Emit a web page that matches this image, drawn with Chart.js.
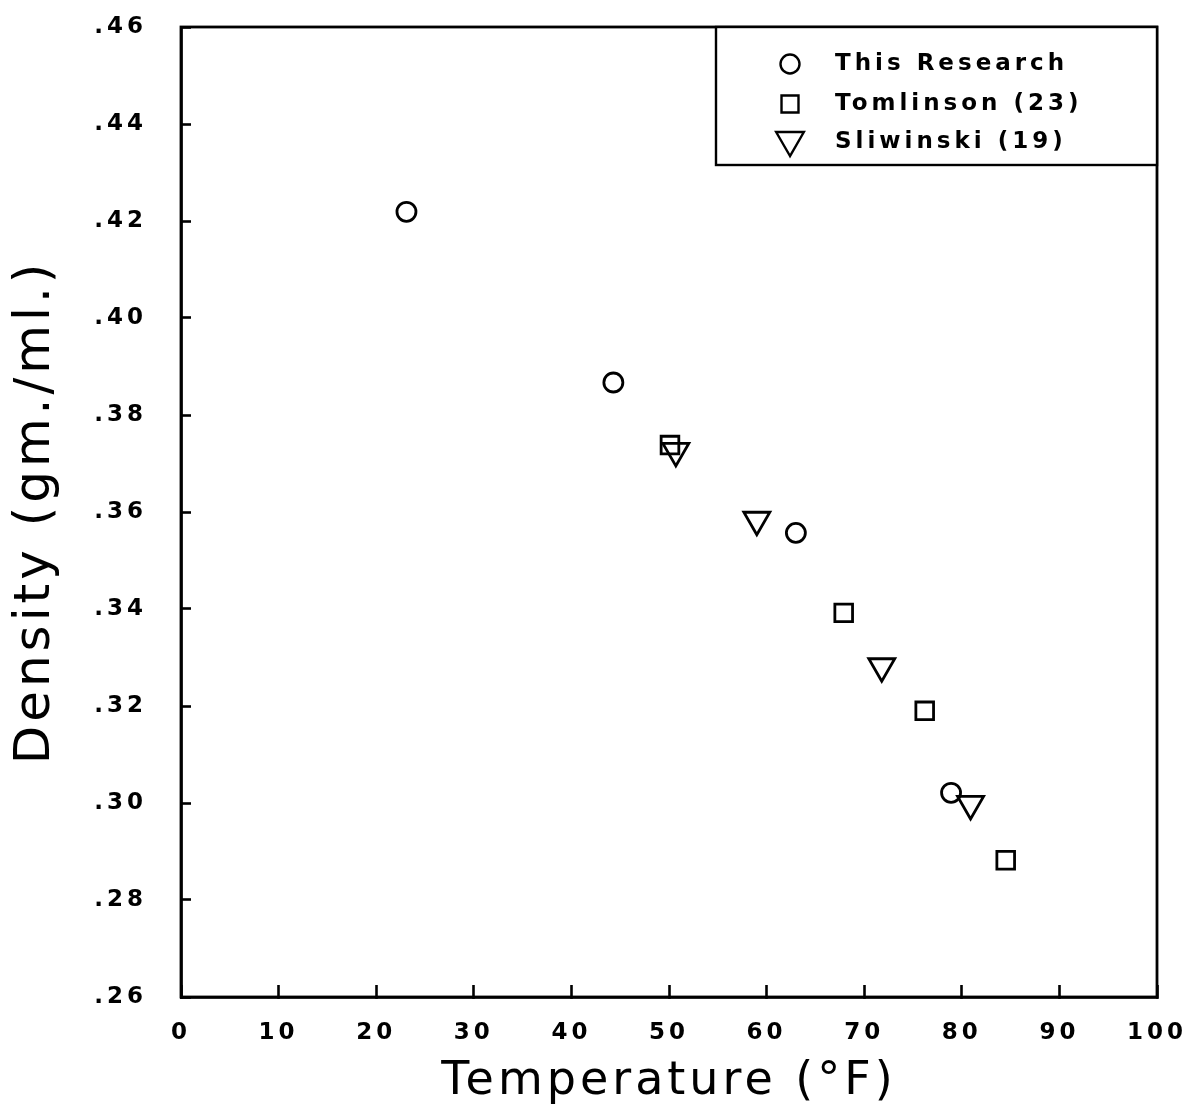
<!DOCTYPE html>
<html>
<head>
<meta charset="utf-8">
<script src="https://cdn.jsdelivr.net/npm/chart.js@4/dist/chart.umd.min.js"></script>
<style>
  html, body { margin: 0; padding: 0; background: #ffffff; }
  canvas { display: block; }
</style>
</head>
<body>
<canvas id="c" width="1193" height="1115"></canvas>
<script>
// ---- data ----
const seriesNames = ['This Research', 'Tomlinson (23)', 'Sliwinski (19)'];
const researchTemp = [23.1, 44.3, 63.0, 78.9];
const researchDensity = [0.4219, 0.3867, 0.3557, 0.3021];
const tomlinsonTemp = [50.1, 67.9, 76.2, 84.5];
const tomlinsonDensity = [0.3738, 0.3392, 0.3190, 0.2882];
const sliwinskiTemp = [50.7, 59.0, 71.8, 80.9];
const sliwinskiDensity = [0.3726, 0.3584, 0.3282, 0.2998];
const xTickLabels = ['0', '10', '20', '30', '40', '50', '60', '70', '80', '90', '100'];
const yTickLabels = ['.26', '.28', '.30', '.32', '.34', '.36', '.38', '.40', '.42', '.44', '.46'];
const xTitle = 'Temperature (\u00B0F)';
const yTitle = 'Density (gm./ml.)';

function pts(xs, ys) { return xs.map((x, i) => ({ x: x, y: ys[i] })); }

const black = '#000000';
const clear = 'rgba(0,0,0,0)';

const datasets = [
  { label: seriesNames[0], data: pts(researchTemp, researchDensity), pointStyle: 'circle', pointRadius: 9.5, pointRotation: 0 },
  { label: seriesNames[1], data: pts(tomlinsonTemp, tomlinsonDensity), pointStyle: 'rect', pointRadius: 12.5, pointRotation: 0 },
  { label: seriesNames[2], data: pts(sliwinskiTemp, sliwinskiDensity), pointStyle: 'triangle', pointRadius: 15, pointRotation: 180 }
].map(d => Object.assign(d, {
  showLine: false,
  borderColor: black,
  backgroundColor: clear,
  pointBorderColor: black,
  pointBackgroundColor: clear,
  pointBorderWidth: 2.8,
  pointHoverRadius: d.pointRadius
}));

const spacingPlugin = {
  id: 'spacing',
  beforeDraw(chart) {
    const ctx = chart.ctx;
    ctx.fillStyle = '#ffffff';
    ctx.fillRect(0, 0, chart.width, chart.height);
    ctx.letterSpacing = '4px';
  }
};

const framePlugin = {
  id: 'frame',
  afterDraw(chart) {
    const ctx = chart.ctx;
    const a = chart.chartArea;
    ctx.save();
    ctx.strokeStyle = black;
    ctx.lineWidth = 2.8;
    ctx.strokeRect(a.left, a.top, a.right - a.left, a.bottom - a.top);

    // legend box in upper right corner of plot
    const bx = 716, by = a.top, bw = a.right - bx, bh = 165 - a.top;
    ctx.lineWidth = 2.4;
    ctx.fillStyle = '#ffffff';
    ctx.fillRect(bx, by, bw, bh);
    ctx.strokeRect(bx, by, bw, bh);
    const rows = [64, 104, 142];
    ctx.letterSpacing = '4px';
    ctx.font = 'bold 23px "DejaVu Sans"';
    ctx.textBaseline = 'middle';
    ctx.textAlign = 'left';
    chart.data.datasets.forEach((ds, i) => {
      const r = ds.pointStyle === 'circle' ? 9.5 : (ds.pointStyle === 'rect' ? 12 : 16);
      ctx.strokeStyle = black;
      ctx.fillStyle = clear;
      Chart.helpers.drawPoint(ctx, {
        pointStyle: ds.pointStyle, radius: r, rotation: ds.pointRotation, borderWidth: 2.8
      }, 790, rows[i] + (ds.pointStyle === 'triangle' ? -2 : 0));
      ctx.fillStyle = black;
      ctx.fillText(ds.label, 835, rows[i]);
    });
    ctx.restore();
  }
};

new Chart(document.getElementById('c'), {
  type: 'scatter',
  data: { datasets: datasets },
  options: {
    responsive: false,
    animation: false,
    events: [],
    layout: { padding: { top: 27, right: 36, left: 0, bottom: 0 } },
    plugins: { legend: { display: false }, tooltip: { enabled: false } },
    scales: {
      x: {
        type: 'linear',
        min: 0, max: 100,
        afterFit(s) { s.height = 118; s.paddingLeft = 0; s.paddingRight = 0; },
        afterBuildTicks(s) { s.ticks = xTickLabels.map(t => ({ value: Number(t) })); },
        ticks: {
          color: black,
          font: { family: '"DejaVu Sans"', size: 23, weight: 'bold' },
          padding: 34,
          maxRotation: 0,
          autoSkip: false,
          callback: (v, i) => xTickLabels[i]
        },
        grid: { drawOnChartArea: false, drawTicks: true, tickLength: -12, tickWidth: 2.6, tickColor: black },
        border: { display: true, color: black, width: 2.8 },
        title: {
          display: true, text: xTitle, color: black,
          font: { family: '"DejaVu Sans"', size: 46, weight: 'normal' },
          padding: { top: 0, bottom: 5 }
        }
      },
      y: {
        type: 'linear',
        min: 0.26, max: 0.46,
        afterFit(s) { s.width = 181; s.paddingTop = 0; s.paddingBottom = 0; },
        afterBuildTicks(s) { s.ticks = yTickLabels.map(t => ({ value: Number('0' + t) })); },
        ticks: {
          color: black,
          font: { family: '"DejaVu Sans"', size: 23, weight: 'bold' },
          padding: 44,
          autoSkip: false,
          callback: (v, i) => yTickLabels[i]
        },
        grid: { drawOnChartArea: false, drawTicks: true, tickLength: -10, tickWidth: 2.6, tickColor: black },
        border: { display: true, color: black, width: 2.8 },
        title: {
          display: true, text: yTitle, color: black,
          font: { family: '"DejaVu Sans"', size: 50, weight: 'normal' },
          padding: { top: 6, bottom: 0 }
        }
      }
    }
  },
  plugins: [spacingPlugin, framePlugin]
});
</script>
</body>
</html>
